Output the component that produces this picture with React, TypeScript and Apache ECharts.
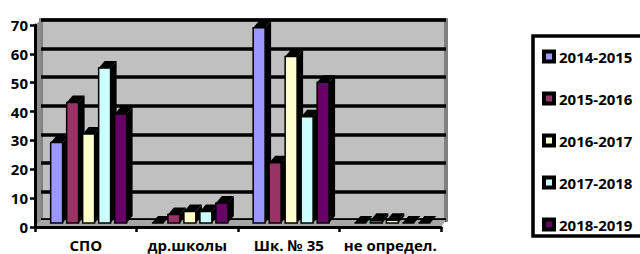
import React, { useEffect, useRef } from "react";
import * as echarts from "echarts";

const categories = ["СПО", "др.школы", "Шк. № 35", "не определ."];
const seriesNames = ["2014-2015", "2015-2016", "2016-2017", "2017-2018", "2018-2019"];
const colors = ["#9999ff", "#993366", "#ffffcc", "#ccffff", "#660066"];
const s20142015 = [28, 0, 68, 0];
const s20152016 = [42, 3, 21, 1];
const s20162017 = [31, 4, 58, 1];
const s20172018 = [54, 4, 37, 0];
const s20182019 = [38, 7, 49, 0];
const seriesValues = [s20142015, s20152016, s20162017, s20172018, s20182019];
const yMin = 0;
const yMax = 70;
const yInterval = 10;

const FONT = "'Open Sans', 'Noto Sans', sans-serif";

export default function App() {
  const ref = useRef<HTMLDivElement>(null);
  useEffect(() => {
    document.body.style.margin = "0";
    const chart = echarts.init(ref.current!, null, { renderer: "svg" });
    const makeRender = (j: number) => (params: any, api: any) => {
      const cat = api.value(0);
      const v = api.value(1);
      const base = api.coord([cat, 0]);
      const top = api.coord([cat, v]);
      const band = api.size([1, 0])[0];
      const w = band * 0.118;
      const pitch = band * 0.158;
      const dx = 6;
      const dy = -7;
      const x = base[0] + (j - 2) * pitch - w / 2;
      const yt = top[1];
      const yb = base[1];
      return {
        type: "group",
        children: [
          {
            type: "polygon",
            shape: { points: [[x + w, yt], [x + w + dx, yt + dy], [x + w + dx, yb + dy], [x + w, yb]] },
            style: { fill: "#000" },
          },
          {
            type: "polygon",
            shape: { points: [[x, yt], [x + dx, yt + dy], [x + w + dx, yt + dy], [x + w, yt]] },
            style: { fill: "#000" },
          },
          {
            type: "rect",
            shape: { x, y: yt, width: w, height: Math.max(0, yb - yt) },
            style: { fill: colors[j], stroke: "#000", lineWidth: 1.5 },
          },
        ],
      };
    };
    const option: any = {
      animation: false,
      backgroundColor: "#fff",
      graphic: [
        {
          type: "polygon",
          z: 1,
          shape: { points: [[35, 25], [41, 20], [41, 220], [35, 227]] },
          style: { fill: "#8c8c8c" },
        },
        {
          type: "polygon",
          z: 1,
          shape: { points: [[41, 220], [446, 220], [441, 227], [35, 227]] },
          style: { fill: "#a6a6a6" },
        },
        {
          type: "rect",
          z: 1,
          shape: { x: 533, y: 36, width: 130, height: 200 },
          style: { fill: "none", stroke: "#000", lineWidth: 3.5 },
        },
      ],
      grid: [
        { left: 41, right: 194, top: 20, bottom: 34, show: true, backgroundColor: "#c0c0c0", borderColor: "#808080", borderWidth: 4 },
        { left: 38, right: 197, top: 22, bottom: 31 },
        { left: 35, right: 199, top: 25, bottom: 27 },
      ],
      xAxis: [
        { type: "category", gridIndex: 0, data: categories, show: false },
        { type: "category", gridIndex: 1, data: categories, show: false },
        {
          type: "category",
          gridIndex: 2,
          data: categories,
          z: 10,
          axisLine: { lineStyle: { color: "#000", width: 3 } },
          axisTick: { show: true, length: 5, lineStyle: { color: "#000", width: 2.5 } },
          axisLabel: { interval: 0, color: "#000", fontFamily: FONT, fontWeight: "bold", fontSize: 15, margin: 10 },
        },
      ],
      yAxis: [
        {
          type: "value",
          gridIndex: 0,
          min: yMin,
          max: yMax,
          interval: yInterval,
          axisLine: { show: false },
          axisTick: { show: false },
          axisLabel: { show: false },
          splitLine: { lineStyle: { color: "#000", width: 3.5 } },
        },
        { type: "value", gridIndex: 1, min: yMin, max: yMax, interval: yInterval, show: false, splitLine: { show: false } },
        {
          type: "value",
          gridIndex: 2,
          min: yMin,
          max: yMax,
          interval: yInterval,
          z: 10,
          axisLine: { show: true, lineStyle: { color: "#000", width: 3 } },
          axisTick: { show: true, length: 5, lineStyle: { color: "#000", width: 2.5 } },
          axisLabel: { color: "#000", fontFamily: FONT, fontWeight: "bold", fontSize: 15, margin: 7 },
          splitLine: { show: false },
        },
      ],
      legend: {
        data: seriesNames,
        orient: "vertical",
        left: 532,
        top: 35,
        padding: [14, 4, 14, 10],
        itemGap: 27,
        itemWidth: 10,
        itemHeight: 10,
        icon: "rect",
        itemStyle: { borderColor: "#000", borderWidth: 4 },
        textStyle: { color: "#000", fontFamily: FONT, fontWeight: "bold", fontSize: 15, lineHeight: 13 },
      },
      series: seriesNames.map((name, j) => ({
        name,
        type: "custom",
        xAxisIndex: 1,
        yAxisIndex: 1,
        z: 3,
        itemStyle: { color: colors[j] },
        renderItem: makeRender(j),
        encode: { x: 0, y: 1 },
        data: categories.map((c, i) => [i, seriesValues[j][i]]),
      })),
    };
    chart.setOption(option);
    return () => chart.dispose();
  }, []);
  return <div ref={ref} style={{ width: 640, height: 254 }} />;
}
